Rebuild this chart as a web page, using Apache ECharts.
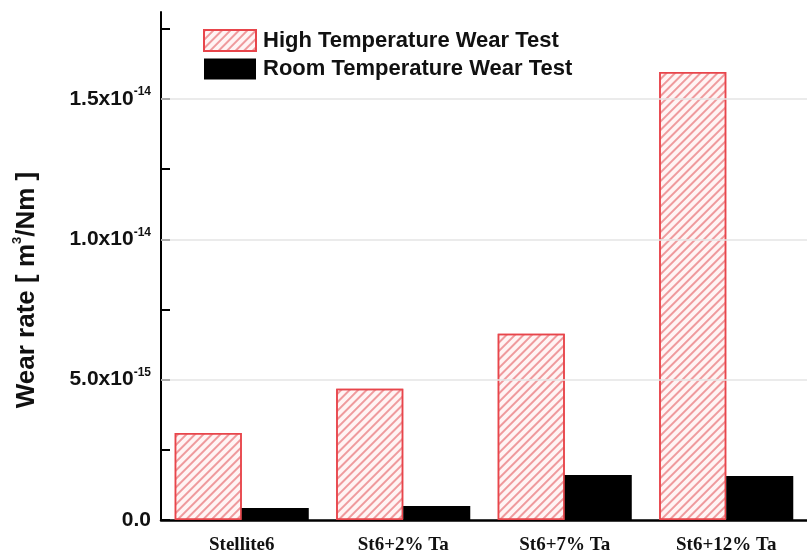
<!DOCTYPE html>
<html>
<head>
<meta charset="utf-8">
<script src="https://cdn.jsdelivr.net/npm/echarts@6/dist/echarts.min.js"></script>
<style>html,body{margin:0;padding:0;background:#fff}#c{width:807px;height:555px}</style>
</head>
<body>
<div id="c"></div>
<script>
// values in units of 1e-15 m^3/Nm
const categories = ['Stellite6', 'St6+2% Ta', 'St6+7% Ta', 'St6+12% Ta'];
const highTemp = [3.10, 4.68, 6.64, 15.96];
const roomTemp = [0.43, 0.50, 1.60, 1.57];
const seriesNames = ['High Temperature Wear Test', 'Room Temperature Wear Test'];
const yLabelValues = [0, 5, 10, 15];
const yTickValues = [0, 2.5, 5, 7.5, 10, 12.5, 15, 17.5];
const gridValues = [5, 10, 15];

function fmt(v) {
  if (v === 0) return '{b|0.0}';
  if (v >= 10) return '{b|' + (v / 10).toFixed(1) + 'x10}{s|-14}';
  return '{b|' + v.toFixed(1) + 'x10}{s|-15}';
}

const chart = echarts.init(document.getElementById('c'), null, {renderer: 'canvas'});
chart.setOption({
  animation: false,
  backgroundColor: '#ffffff',
  grid: {left: 161, right: -4, top: 12, bottom: 35, containLabel: false},
  legend: {
    left: 198, top: 24, orient: 'vertical', itemWidth: 52, itemHeight: 21, itemGap: 6,
    icon: 'rect',
    textStyle: {fontFamily: 'Liberation Sans', fontWeight: 'bold', fontSize: 22, color: '#111', padding: [0, 0, 0, 2]},
    data: seriesNames
  },
  xAxis: {
    type: 'category', data: categories,
    axisLine: {lineStyle: {color: '#000', width: 2.5}},
    axisTick: {show: false},
    axisLabel: {fontFamily: 'Liberation Serif', fontWeight: 'bold', fontSize: 19, color: '#111', margin: 16}
  },
  yAxis: {
    type: 'value', min: 0, max: 18.1, interval: 2.5,
    axisLine: {show: true, lineStyle: {color: '#000', width: 2}},
    axisTick: {show: true, inside: true, length: 9, lineStyle: {color: '#000', width: 2}, customValues: yTickValues},
    splitLine: {show: false},
    axisLabel: {
      customValues: yLabelValues, margin: 10,
      formatter: function (v) { return (Math.abs(v % 5) < 1e-9) ? fmt(v) : ''; },
      rich: {
        b: {fontFamily: 'Liberation Sans', fontWeight: 'bold', fontSize: 21, color: '#111', lineHeight: 26},
        s: {fontFamily: 'Liberation Sans', fontWeight: 'bold', fontSize: 12, color: '#111', lineHeight: 13, verticalAlign: 'top'}
      }
    }
  },
  graphic: [{
    type: 'text', x: 27, y: 290, rotation: Math.PI / 2,
    style: {
      text: '{b|Wear rate [ m}{s|3}{b|/Nm ]}', align: 'center', verticalAlign: 'middle',
      rich: {
        b: {fontFamily: 'Liberation Sans', fontWeight: 'bold', fontSize: 26, fill: '#111', lineHeight: 32},
        s: {fontFamily: 'Liberation Sans', fontWeight: 'bold', fontSize: 13, fill: '#111', lineHeight: 15, verticalAlign: 'top'}
      }
    }
  }],
  series: [{
    name: seriesNames[0], type: 'bar', data: highTemp, barGap: '0%', barCategoryGap: '17%',
    itemStyle: {
      color: '#fff4f4', borderColor: '#e8454b', borderWidth: 1.5,
      decal: {symbol: 'rect', symbolSize: 1, dashArrayX: [1, 0], dashArrayY: [2, 4], rotation: -Math.PI / 4, color: 'rgba(225,80,85,0.55)'}
    },
    markLine: {
      silent: true, symbol: 'none', label: {show: false},
      lineStyle: {color: '#e4e4e4', width: 1.5, type: 'solid'},
      data: gridValues.map(v => ({yAxis: v}))
    }
  }, {
    name: seriesNames[1], type: 'bar', data: roomTemp,
    itemStyle: {color: '#000'}
  }]
});
</script>
</body>
</html>
